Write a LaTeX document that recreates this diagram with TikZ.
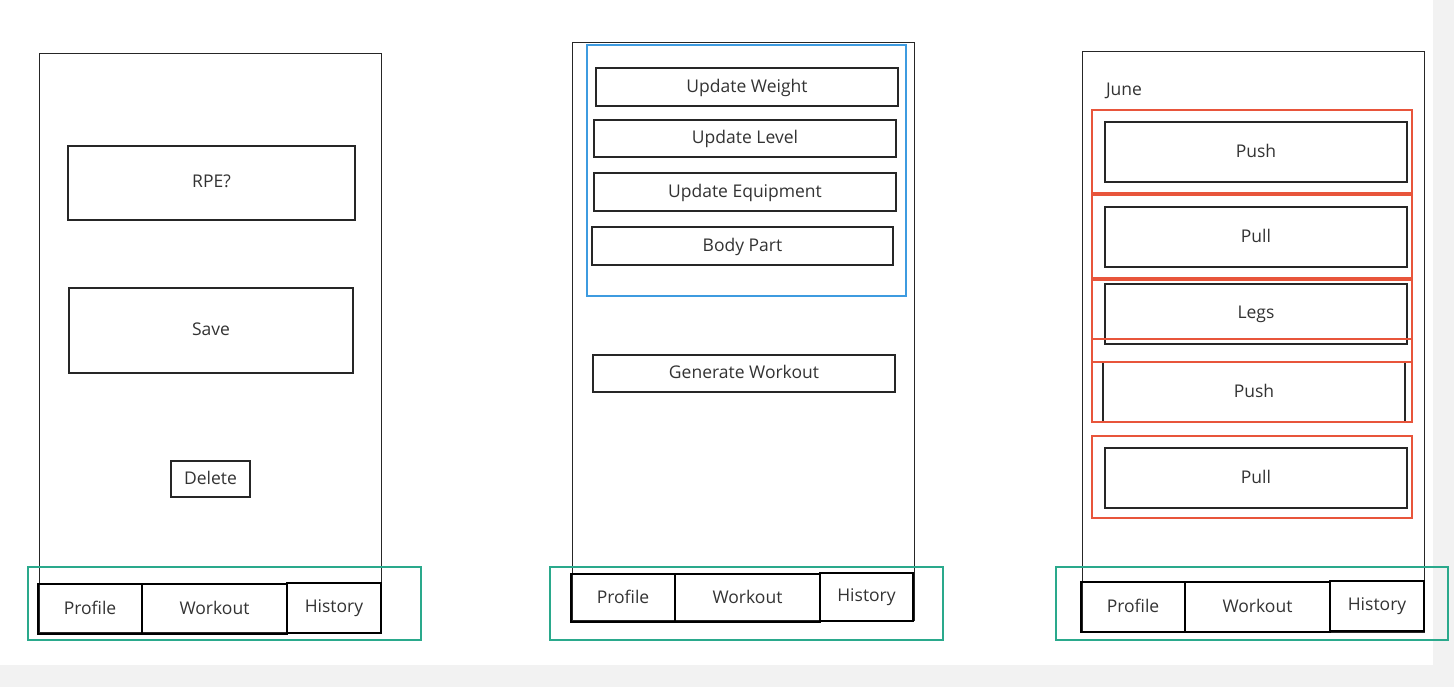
\documentclass[tikz,border=0pt]{standalone}
\usepackage{fontspec}
\setmainfont{Open Sans}
\definecolor{txt}{HTML}{333333}
\definecolor{tealc}{HTML}{2AA98C}
\definecolor{bluec}{HTML}{3D9BE0}
\definecolor{redc}{HTML}{E8553B}
\definecolor{bgc}{HTML}{F2F2F2}
\begin{document}
\begin{tikzpicture}[x=1pt,y=-1pt,
  every node/.style={inner sep=0pt, outer sep=0pt, text=txt, font=\fontsize{17.5}{20}\selectfont},
  phone/.style={draw=black!85, line width=1pt, rectangle},
  btn/.style={draw=black!85, line width=1.1pt, rectangle, text depth=3pt},
  navbtn/.style={draw=black, line width=1.8pt, rectangle, text depth=3pt},
  tealbox/.style={draw=tealc, line width=1.5pt, rectangle},
  bluebox/.style={draw=bluec, line width=1.5pt, rectangle},
  redbox/.style={draw=redc, line width=1.6pt, rectangle}]
\useasboundingbox (0,0) rectangle (1454,687);
\fill[bgc] (0,0) rectangle (1454,687);
\fill[white] (0,0) rectangle (1433,665);

% ---------- Panel 1 ----------
\node[phone, minimum width=342, minimum height=578] (phone1) at (210,343) {};
\node[btn, minimum width=287, minimum height=74] (rpe) at (211.5,183) {RPE?};
\node[btn, minimum width=284, minimum height=85] (save) at (211,330.5) {Save};
\node[btn, minimum width=79, minimum height=36] (delete) at (210.5,479) {Delete};
\node[navbtn, minimum width=104, minimum height=50] (prof1) at (90,609) {Profile};
\node[navbtn, minimum width=145, minimum height=50] (work1) at (214.5,609) {Workout};
\node[navbtn, minimum width=94, minimum height=50] (hist1) at (334,608) {History};
\node[tealbox, minimum width=393, minimum height=73] (nav1) at (224.5,603.5) {};

% ---------- Panel 2 ----------
\node[phone, minimum width=342, minimum height=577] (phone2) at (743,331.5) {};
\node[btn, minimum width=302, minimum height=38] (uw) at (747,87) {Update Weight};
\node[btn, minimum width=302, minimum height=37] (ul) at (745,138.5) {Update Level};
\node[btn, minimum width=302, minimum height=38] (ue) at (745,192) {Update Equipment};
\node[btn, minimum width=301, minimum height=38] (bp) at (742.5,246) {Body Part};
\node[bluebox, minimum width=319, minimum height=251] (settings) at (746.5,170.5) {};
\node[btn, minimum width=302, minimum height=37] (gw) at (744,373.5) {Generate Workout};
\node[navbtn, minimum width=104, minimum height=48] (prof2) at (623,598) {Profile};
\node[navbtn, minimum width=145, minimum height=48] (work2) at (747.5,598) {Workout};
\node[navbtn, minimum width=93, minimum height=48] (hist2) at (866.5,597) {History};
\node[tealbox, minimum width=393, minimum height=73] (nav2) at (746.5,603.5) {};

% ---------- Panel 3 ----------
\node[phone, minimum width=342, minimum height=580] (phone3) at (1253,342) {};
\node[anchor=west] (june) at (1106,91) {June};
\node[btn, minimum width=302, minimum height=60] (push1) at (1256,152) {Push};
\node[btn, minimum width=302, minimum height=60] (pull1) at (1256,237) {Pull};
\node[btn, minimum width=302, minimum height=60] (legs) at (1256,314) {Legs};
\node[btn, minimum width=302, minimum height=60] (push2) at (1254,392) {Push};
\node[btn, minimum width=302, minimum height=60] (pull2) at (1256,478) {Pull};
\node[redbox, minimum width=320, minimum height=83] (r1) at (1252,151.5) {};
\node[redbox, minimum width=320, minimum height=83] (r2) at (1252,236.5) {};
\node[redbox, minimum width=320, minimum height=82] (r3) at (1252,321) {};
\node[redbox, minimum width=320, minimum height=83] (r4) at (1252,380.5) {};
\node[redbox, minimum width=320, minimum height=82] (r5) at (1252,477) {};
\node[navbtn, minimum width=104, minimum height=50] (prof3) at (1133,607) {Profile};
\node[navbtn, minimum width=145, minimum height=50] (work3) at (1257.5,607) {Workout};
\node[navbtn, minimum width=94, minimum height=50] (hist3) at (1377,606) {History};
\node[tealbox, minimum width=392, minimum height=73] (nav3) at (1252,603.5) {};
\end{tikzpicture}
\end{document}
